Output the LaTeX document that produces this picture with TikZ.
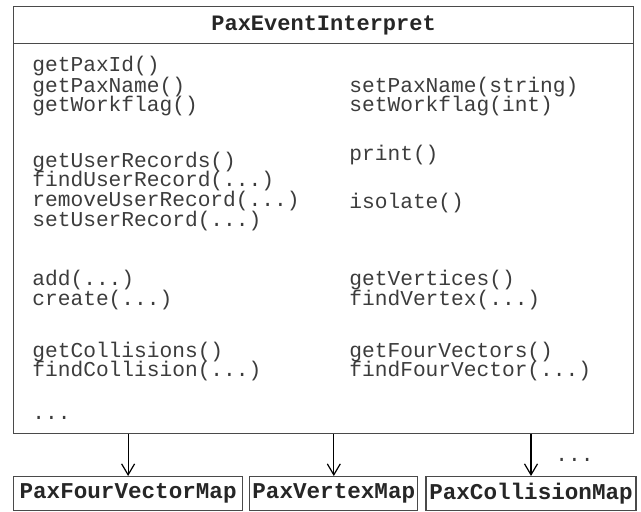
\documentclass[tikz,border=0pt]{standalone}
\usepackage{fontspec}
\setmonofont{Liberation Mono}
\usetikzlibrary{arrows.meta,positioning}
\tikzset{>={Straight Barb[length=5.5pt,width=6.5pt]}}
\definecolor{linegray}{HTML}{4A4A4A}
\definecolor{textgray}{HTML}{3C3C3C}
\newcommand{\mdots}{...}
\tikzset{
  method/.style={anchor=base west, inner sep=0pt, text=textgray,
    font=\fontsize{10.6}{12}\selectfont\ttfamily},
  mapbox/.style={draw=linegray, line width=0.6pt, minimum height=17pt,
    inner sep=0pt, text=black!85,
    font=\fontsize{11.3}{13}\selectfont\ttfamily\bfseries}
}

\begin{document}
\begin{tikzpicture}[x=0.5pt,y=-0.5pt]
  \useasboundingbox (0,0) rectangle (641,512);

  \node [draw=linegray, line width=0.6pt,
    anchor=north west, inner sep=0pt,
    minimum width=310pt, minimum height=213.5pt
  ] (interp) at (13,6) {};

  \node [mapbox, anchor=north west,
    font=\fontsize{11}{13}\selectfont\ttfamily\bfseries,
    minimum width=310pt, minimum height=18.5pt
  ] (head) at (interp.north west) {PaxEventInterpret};

  % left column
  \foreach \y/\txt [count=\i] in {72/getPaxId(), 92.5/getPaxName(),
      112/getWorkflag(), 168/getUserRecords(), 187/findUserRecord(\mdots),
      207/removeUserRecord(\mdots), 227/setUserRecord(\mdots), 285.5/add(\mdots),
      305.5/create(\mdots), 357.5/getCollisions(), 376.5/findCollision(\mdots),
      419/\mdots}
    \node [method] (left\i) at (32,\y) {\txt};

  % right column
  \foreach \y/\txt [count=\i] in {92.5/setPaxName(string), 112/setWorkflag(int),
      161/print(), 209/isolate(), 285.5/getVertices(), 305.5/findVertex(\mdots),
      357.5/getFourVectors(), 376.5/findFourVector(\mdots)}
    \node [method] (right\i) at (349,\y) {\txt};

  \node [mapbox, anchor=north west,
    minimum width=114.5pt
  ] (fourvec) at (13,476) {PaxFourVectorMap};

  \node [mapbox,
    minimum width=84pt,
    right=3pt of fourvec
  ] (vertex) {PaxVertexMap};

  \node [mapbox,
    minimum width=105pt,
    right=3.5pt of vertex
  ] (collision) {PaxCollisionMap};

  \node [method] (more) at (555,461) {\mdots};

  \draw[->, line width=0.6pt] (fourvec.north |- interp.south) -- (fourvec.north);
  \draw[->, line width=0.6pt] (vertex.north |- interp.south) -- (vertex.north);
  \draw[->, line width=0.6pt] (collision.north |- interp.south) -- (collision.north);
\end{tikzpicture}
\end{document}
